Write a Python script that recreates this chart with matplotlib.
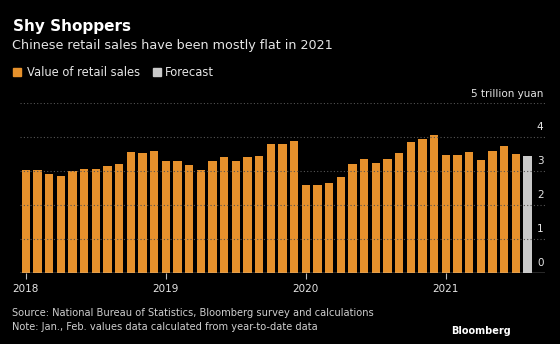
import matplotlib.pyplot as plt
import matplotlib.transforms as mtransforms
from matplotlib.patches import Rectangle

# monthly retail sales, trillion yuan (Jan 2018 - Jul 2021) + Aug 2021 forecast
sales = [
    3.03, 3.03, 2.91, 2.84, 3.00, 3.06, 3.06, 3.14, 3.19, 3.54, 3.51, 3.59,
    3.30, 3.30, 3.16, 3.03, 3.30, 3.39, 3.30, 3.39, 3.44, 3.79, 3.79, 3.87,
    2.59, 2.59, 2.64, 2.82, 3.19, 3.33, 3.22, 3.33, 3.51, 3.84, 3.94, 4.04,
    3.46, 3.46, 3.54, 3.31, 3.59, 3.74, 3.49,
]
forecast = [3.43]
year_labels = ['2018', '2019', '2020', '2021']
y_ticks = [0, 1, 2, 3, 4]

orange = '#E6912C'
grey_bar = '#C9C9C9'
txt = '#E6E6E6'
bg = '#000000'

fig = plt.figure(figsize=(5.6, 3.44), dpi=100, facecolor=bg)
ax = fig.add_axes([20 / 560, (344 - 272.7) / 344, 525 / 560, 170 / 344])
ax.set_facecolor(bg)

n = len(sales)
ax.bar(range(n), sales, width=0.72, color=orange, zorder=2)
ax.bar(range(n, n + len(forecast)), forecast, width=0.72, color=grey_bar, zorder=2)

ax.set_xlim(-0.5, n + len(forecast) + 0.5)
ax.set_ylim(0, 5)

# dotted gridlines, drawn over the bars
for v in [1, 2, 3, 4, 5]:
    ax.axhline(v, color='#555555', linestyle=(0, (1, 2)), linewidth=0.8, zorder=3)
ax.axhline(0, color='#d0d0d0', linewidth=1.0, zorder=4)

for s in ax.spines.values():
    s.set_visible(False)
ax.set_yticks([])
ax.set_xticks([0, 12, 24, 36])
ax.set_xticklabels(year_labels)
ax.tick_params(axis='x', colors='#bbbbbb', labelcolor=txt, length=4, width=0.8,
               pad=4, labelsize=7.5)

trans = mtransforms.blended_transform_factory(ax.transAxes, ax.transData)
for v in y_ticks:
    ax.text(0.997, v + 0.15, str(v), transform=trans, ha='right', va='bottom',
            color=txt, fontsize=7.5)
ax.text(0.997, 5.12, '5 trillion yuan', transform=trans, ha='right', va='bottom',
        color=txt, fontsize=7.5)

# header
fig.text(13 / 560, 1 - 27 / 344, 'Shy Shoppers', color='white', fontsize=11,
         fontweight='bold', va='center', ha='left')
fig.text(12 / 560, 1 - 45 / 344, 'Chinese retail sales have been mostly flat in 2021',
         color=txt, fontsize=9.2, va='center', ha='left')

# legend
fig.patches.append(Rectangle((13 / 560, 1 - 76 / 344), 8 / 560, 8 / 344,
                             transform=fig.transFigure, color=orange))
fig.text(27 / 560, 1 - 72 / 344, 'Value of retail sales', color=txt, fontsize=8.3,
         va='center', ha='left')
fig.patches.append(Rectangle((153 / 560, 1 - 76 / 344), 8 / 560, 8 / 344,
                             transform=fig.transFigure, color=grey_bar))
fig.text(165 / 560, 1 - 72 / 344, 'Forecast', color=txt, fontsize=8.3,
         va='center', ha='left')

# footer
fig.text(12 / 560, 1 - 313 / 344,
         'Source: National Bureau of Statistics, Bloomberg survey and calculations',
         color='#cfcfcf', fontsize=7.1, va='center', ha='left')
fig.text(12 / 560, 1 - 327 / 344,
         'Note: Jan., Feb. values data calculated from year-to-date data',
         color='#cfcfcf', fontsize=7.1, va='center', ha='left')
fig.text(511 / 560, 1 - 331 / 344, 'Bloomberg', color='white', fontsize=7,
         fontweight='bold', va='center', ha='right')

fig.savefig('out.png', dpi=100, facecolor=bg)
